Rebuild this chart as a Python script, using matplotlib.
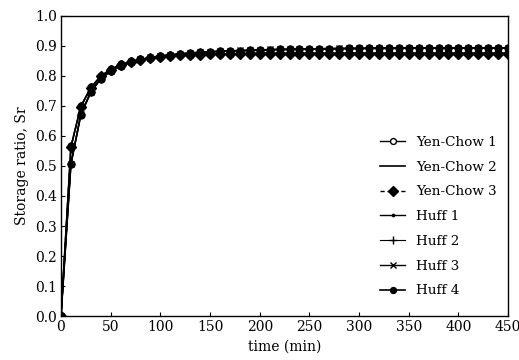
import numpy as np
import matplotlib.pyplot as plt

plt.rcParams['font.family'] = ['DejaVu Serif']

# time axis (min)
time_min = list(range(0, 460, 10))

# storage ratio
yen_chow_1 = [0.000, 0.565, 0.700, 0.762, 0.800, 0.822, 0.838, 0.848, 0.855, 0.860,
              0.864, 0.867, 0.869, 0.871, 0.872, 0.873, 0.874, 0.874, 0.875, 0.875,
              0.876, 0.876, 0.876, 0.876, 0.876, 0.876, 0.876, 0.876, 0.876, 0.876,
              0.876, 0.876, 0.876, 0.876, 0.876, 0.876, 0.876, 0.876, 0.876, 0.876,
              0.876, 0.876, 0.876, 0.876, 0.876, 0.876]
yen_chow_2 = [0.000, 0.563, 0.698, 0.760, 0.799, 0.821, 0.837, 0.847, 0.854, 0.859,
              0.863, 0.866, 0.868, 0.870, 0.871, 0.872, 0.873, 0.874, 0.874, 0.875,
              0.875, 0.875, 0.875, 0.875, 0.875, 0.875, 0.875, 0.875, 0.875, 0.875,
              0.875, 0.875, 0.875, 0.875, 0.875, 0.875, 0.875, 0.875, 0.875, 0.875,
              0.875, 0.875, 0.875, 0.875, 0.875, 0.875]
yen_chow_3 = [0.000, 0.562, 0.697, 0.759, 0.798, 0.820, 0.836, 0.846, 0.853, 0.858,
              0.862, 0.865, 0.868, 0.870, 0.871, 0.872, 0.873, 0.873, 0.874, 0.874,
              0.874, 0.874, 0.874, 0.874, 0.874, 0.874, 0.874, 0.874, 0.874, 0.874,
              0.874, 0.874, 0.874, 0.874, 0.874, 0.874, 0.874, 0.874, 0.874, 0.874,
              0.874, 0.874, 0.874, 0.874, 0.874, 0.874]
huff_1 = [0.000, 0.505, 0.670, 0.745, 0.790, 0.815, 0.832, 0.844, 0.853, 0.860,
          0.865, 0.869, 0.872, 0.875, 0.877, 0.879, 0.881, 0.882, 0.883, 0.884,
          0.885, 0.886, 0.887, 0.887, 0.888, 0.888, 0.889, 0.889, 0.890, 0.890,
          0.890, 0.891, 0.891, 0.891, 0.891, 0.892, 0.892, 0.892, 0.892, 0.892,
          0.892, 0.892, 0.892, 0.892, 0.892, 0.892]
huff_2 = [0.000, 0.507, 0.672, 0.746, 0.791, 0.816, 0.833, 0.845, 0.854, 0.861,
          0.866, 0.870, 0.873, 0.876, 0.878, 0.880, 0.882, 0.883, 0.884, 0.885,
          0.886, 0.887, 0.888, 0.888, 0.889, 0.889, 0.890, 0.890, 0.891, 0.891,
          0.891, 0.892, 0.892, 0.892, 0.892, 0.893, 0.893, 0.893, 0.893, 0.893,
          0.893, 0.893, 0.893, 0.893, 0.893, 0.893]
huff_3 = [0.000, 0.508, 0.673, 0.747, 0.792, 0.817, 0.834, 0.846, 0.855, 0.862,
          0.867, 0.871, 0.874, 0.877, 0.879, 0.881, 0.883, 0.884, 0.885, 0.886,
          0.887, 0.888, 0.889, 0.889, 0.890, 0.890, 0.891, 0.891, 0.892, 0.892,
          0.892, 0.893, 0.893, 0.893, 0.893, 0.894, 0.894, 0.894, 0.894, 0.894,
          0.894, 0.894, 0.894, 0.894, 0.894, 0.894]
huff_4 = [0.000, 0.506, 0.671, 0.746, 0.791, 0.816, 0.833, 0.845, 0.854, 0.861,
          0.866, 0.870, 0.873, 0.876, 0.878, 0.880, 0.882, 0.883, 0.884, 0.885,
          0.886, 0.887, 0.888, 0.889, 0.889, 0.890, 0.890, 0.891, 0.891, 0.892,
          0.892, 0.892, 0.893, 0.893, 0.893, 0.893, 0.893, 0.893, 0.893, 0.893,
          0.893, 0.893, 0.893, 0.893, 0.893, 0.893]

fig = plt.figure(figsize=(5.19, 3.6), dpi=100)
ax = fig.add_axes([0.1175, 0.122, 0.8615, 0.834])

ax.plot(time_min, yen_chow_1, '-o', color='k', mfc='white', ms=5, lw=1.0, label='Yen-Chow 1')
ax.plot(time_min, yen_chow_2, '-', color='k', lw=1.2, label='Yen-Chow 2')
ax.plot(time_min, yen_chow_3, '--D', color='k', ms=5.5, lw=1.0, dashes=(3, 2), label='Yen-Chow 3')
ax.plot(time_min, huff_1, color='k', marker='.', ls='-', ms=4, lw=1.0, label='Huff 1')
ax.plot(time_min, huff_2, '-+', color='k', ms=6, lw=0.8, label='Huff 2')
ax.plot(time_min, huff_3, '-x', color='k', ms=5, lw=1.0, label='Huff 3')
ax.plot(time_min, huff_4, '-o', color='k', ms=5, lw=1.2, label='Huff 4')

ax.set_xlim(0, 450)
ax.set_ylim(0, 1.0)
ax.set_xticks(np.arange(0, 451, 50))
ax.set_yticks(np.arange(0, 1.01, 0.1))
ax.yaxis.set_major_formatter(plt.FormatStrFormatter('%.1f'))
ax.tick_params(direction='in', length=3, labelsize=10, pad=3)
for s in ax.spines.values():
    s.set_linewidth(1.0)

ax.set_xlabel('time (min)', fontsize=10, labelpad=4)
ax.set_ylabel('Storage ratio, Sr', fontsize=10, labelpad=4)

ax.legend(loc='upper left', bbox_to_anchor=(0.714, 0.600), frameon=False,
          fontsize=9.7, handlelength=1.85, labelspacing=0.87, handletextpad=0.8,
          markerscale=0.85, borderpad=0, borderaxespad=0)

fig.savefig('out.png', dpi=100)
